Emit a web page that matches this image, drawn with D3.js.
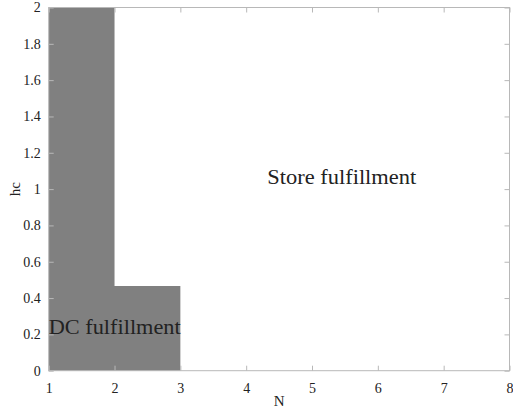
<!DOCTYPE html>
<html>
<head>
<meta charset="utf-8">
<script src="https://cdn.jsdelivr.net/npm/d3@7"></script>
<style>
  body { margin: 0; background: #fff; }
  svg text { font-family: "Liberation Serif", "DejaVu Serif", serif !important; fill: #222; }
</style>
</head>
<body>
<div id="chart"></div>
<script>
// region boundary: for N from nValues[i] to nValues[i+1], DC fulfillment below hcLimit[i]
var nValues = [1, 2, 3, 4, 5, 6, 7, 8];
var hcLimit = [2, 0.466, 0, 0, 0, 0, 0, 0];
var xTicks = [1, 2, 3, 4, 5, 6, 7, 8];
var yTicks = [0, 0.2, 0.4, 0.6, 0.8, 1, 1.2, 1.4, 1.6, 1.8, 2];

var W = 513, H = 414;
var margin = { top: 7.5, right: 3.5, bottom: 43.3, left: 48.7 };
var width = W - margin.left - margin.right,
  height = H - margin.top - margin.bottom;

var svg = d3.select("#chart").append("svg")
  .attr("width", W).attr("height", H)
  .append("g")
  .attr("transform", "translate(" + margin.left + "," + margin.top + ")");

var x = d3.scaleLinear().domain([1, 8]).range([0, width]);
var y = d3.scaleLinear().domain([0, 2]).range([height, 0]);

var boundary = nValues.map(function (d, i) {
  return { n: d, hc: hcLimit[i] };
});

// DC fulfillment region
var area = d3.area()
  .curve(d3.curveStepAfter)
  .x(function (d) { return x(d.n); })
  .y0(y(0))
  .y1(function (d) { return y(d.hc); });

svg.append("path")
  .datum(boundary)
  .attr("d", area)
  .style("fill", "#808080");

var axisColor = "#b8b8b8";

function styleAxis(g) {
  g.select(".domain").remove();
  g.selectAll(".tick line").attr("stroke", axisColor);
  g.selectAll(".tick text").style("font-size", "14px").attr("fill", "#222");
}

// bottom / left axes with inward ticks
svg.append("g")
  .attr("transform", "translate(0," + height + ")")
  .call(d3.axisBottom(x).tickValues(xTicks).tickSize(-5).tickPadding(12).tickFormat(d3.format("d")))
  .call(styleAxis);

svg.append("g")
  .call(d3.axisLeft(y).tickValues(yTicks).tickSize(-5).tickPadding(8).tickFormat(function (d) { return d; }))
  .call(styleAxis);

// top / right axes, ticks only
svg.append("g")
  .call(d3.axisTop(x).tickValues(xTicks).tickSize(-5).tickFormat(""))
  .call(styleAxis);

svg.append("g")
  .attr("transform", "translate(" + width + ",0)")
  .call(d3.axisRight(y).tickValues(yTicks).tickSize(-5).tickFormat(""))
  .call(styleAxis);

// box
svg.append("rect")
  .attr("width", width).attr("height", height)
  .style("fill", "none")
  .style("stroke", axisColor)
  .style("stroke-width", 1);

// axis labels
svg.append("text")
  .attr("x", width / 2).attr("y", height + 35)
  .attr("text-anchor", "middle")
  .style("font-size", "15px")
  .text("N");

svg.append("text")
  .attr("transform", "translate(" + (-29) + "," + (height / 2) + ") rotate(-90)")
  .attr("text-anchor", "middle")
  .style("font-size", "15px")
  .text("hc");

// region labels
svg.append("text")
  .attr("x", x(1)).attr("y", y(0.2))
  .attr("textLength", 132)
  .attr("lengthAdjust", "spacingAndGlyphs")
  .style("font-size", "20px")
  .text("DC fulfillment");

svg.append("text")
  .attr("x", x(4.32)).attr("y", y(1.03))
  .attr("textLength", 149)
  .attr("lengthAdjust", "spacingAndGlyphs")
  .style("font-size", "20px")
  .text("Store fulfillment");
</script>
</body>
</html>
